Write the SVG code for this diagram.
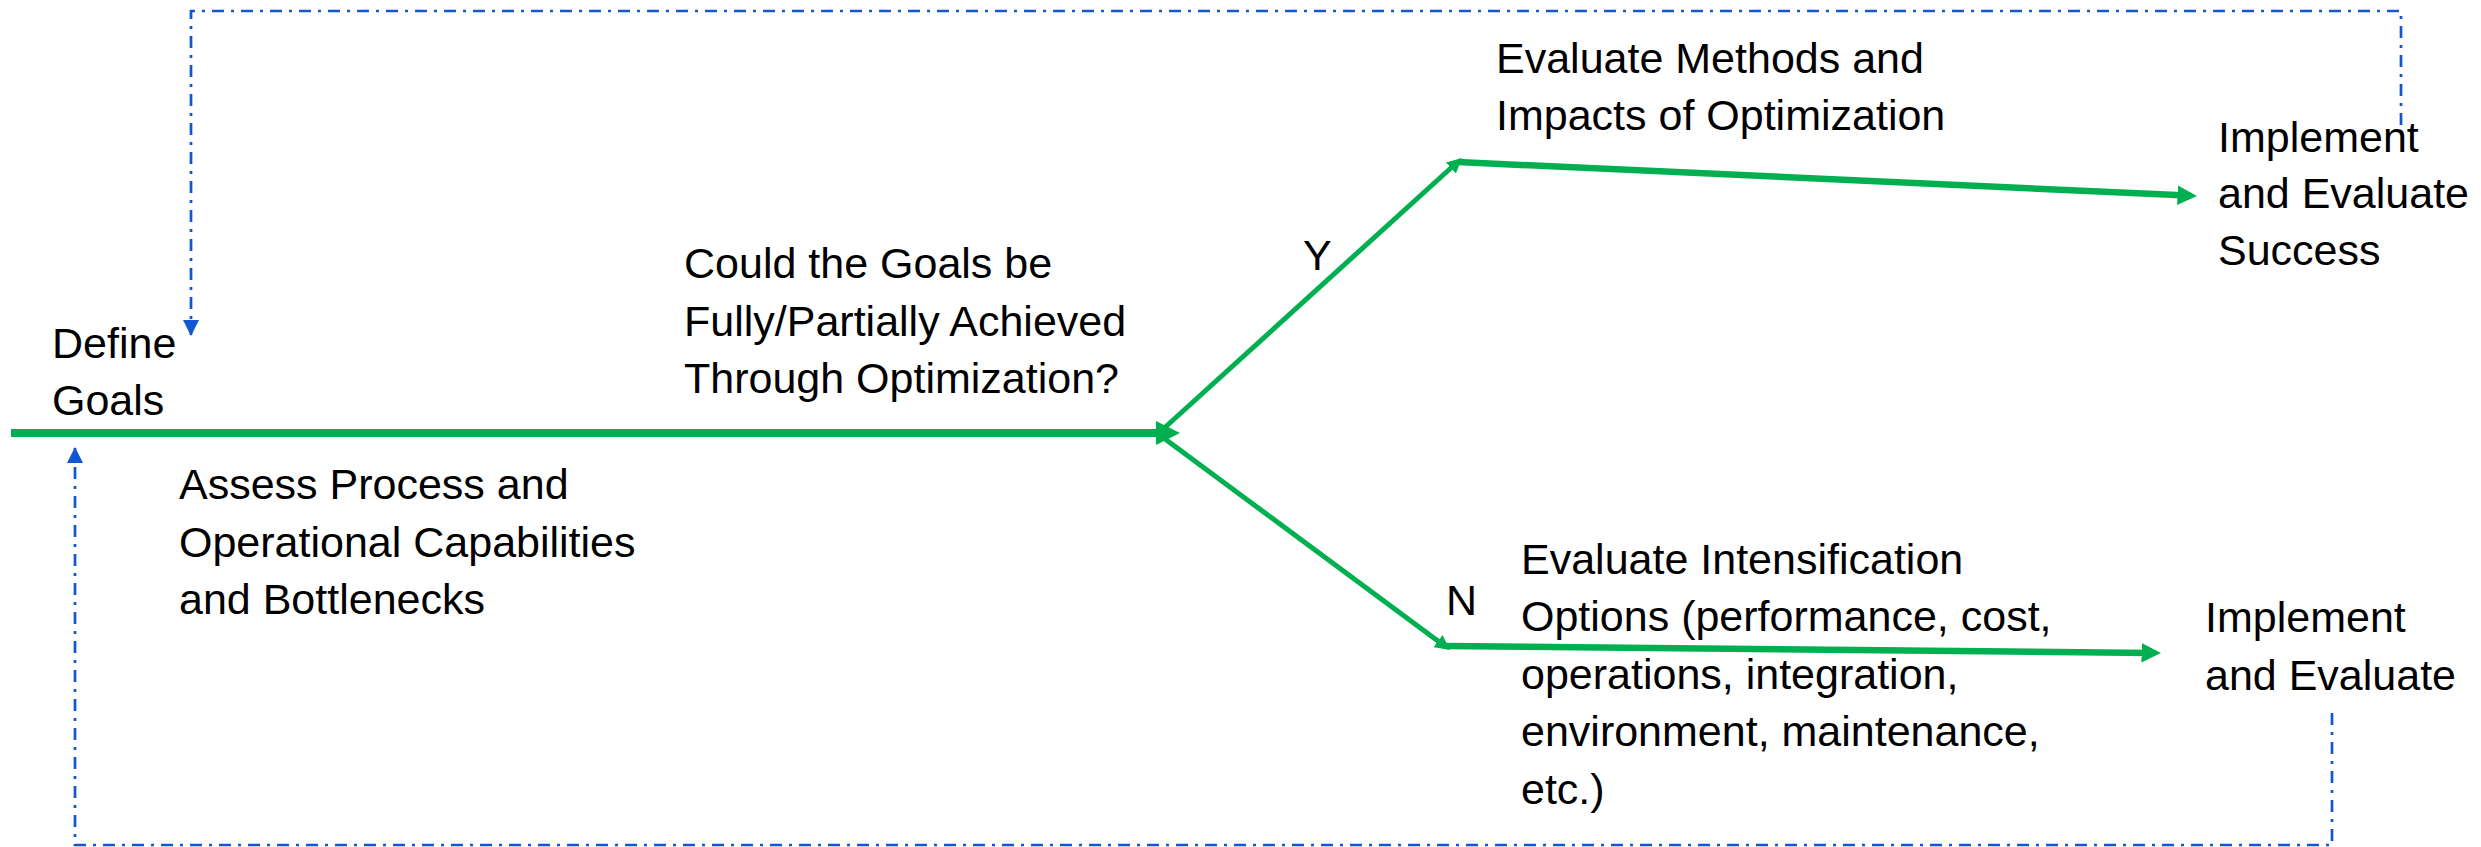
<svg xmlns="http://www.w3.org/2000/svg" width="2481" height="847" viewBox="0 0 2481 847">
  <defs>
    <style>
      .lbl { font-family: "Liberation Sans", Arial, sans-serif; font-size: 43px; fill: #000; }
      .flow { fill: none; stroke: #00B050; stroke-linecap: butt; }
      .loop { fill: none; stroke: #1157D0; stroke-width: 2.7; stroke-dasharray: 12 7 3 7; }
    </style>
    <!-- green arrowhead, sized relative to the line width -->
    <marker id="gArrow" viewBox="0 0 10 10" refX="5" refY="5" markerWidth="3" markerHeight="3" markerUnits="strokeWidth" orient="auto">
      <path d="M0,0 L10,5 L0,10 z" fill="#00B050"/>
    </marker>
    <!-- blue arrowhead for the feedback loops -->
    <marker id="bArrow" viewBox="0 0 16 16" refX="15" refY="8" markerWidth="16" markerHeight="16" markerUnits="userSpaceOnUse" orient="auto">
      <path d="M0,0 L16,8 L0,16 z" fill="#1157D0"/>
    </marker>
  </defs>
  <rect width="2481" height="847" fill="#fff"/>

  <g id="connectors">
    <!-- main assessment path to decision point -->
    <line class="flow" x1="11" y1="433" x2="1168" y2="433" stroke-width="8" marker-end="url(#gArrow)"/>
    <!-- Y branch -->
    <line class="flow" x1="1161" y1="431" x2="1456.4" y2="163" stroke-width="5" marker-end="url(#gArrow)"/>
    <line class="flow" x1="1458" y1="162" x2="2187.3" y2="195.6" stroke-width="6.5" marker-end="url(#gArrow)"/>
    <!-- N branch -->
    <line class="flow" x1="1161" y1="436" x2="1444" y2="645.5" stroke-width="5" marker-end="url(#gArrow)"/>
    <line class="flow" x1="1446" y1="646" x2="2151.3" y2="652.9" stroke-width="6.5" marker-end="url(#gArrow)"/>
    <!-- feedback loops back to goal definition -->
    <path class="loop" d="M2401,125 V11 H191 V335" marker-end="url(#bArrow)"/>
    <path class="loop" d="M2332,713 V845 H75 V448" marker-end="url(#bArrow)"/>
  </g>

  <g id="define-goals">
    <text class="lbl" x="52" y="358">Define</text>
    <text class="lbl" x="52" y="415">Goals</text>
  </g>

  <g id="assess">
    <text class="lbl" x="179" y="499">Assess Process and</text>
    <text class="lbl" x="179" y="557">Operational Capabilities</text>
    <text class="lbl" x="179" y="614">and Bottlenecks</text>
  </g>

  <g id="decision">
    <text class="lbl" x="684" y="278">Could the Goals be</text>
    <text class="lbl" x="684" y="336">Fully/Partially Achieved</text>
    <text class="lbl" x="684" y="393">Through Optimization?</text>
  </g>

  <g id="label-y">
    <text class="lbl" x="1303" y="270">Y</text>
  </g>

  <g id="label-n">
    <text class="lbl" x="1446" y="615">N</text>
  </g>

  <g id="evaluate-methods">
    <text class="lbl" x="1496" y="73">Evaluate Methods and</text>
    <text class="lbl" x="1496" y="130">Impacts of Optimization</text>
  </g>

  <g id="implement-success">
    <text class="lbl" x="2218" y="152">Implement</text>
    <text class="lbl" x="2218" y="208">and Evaluate</text>
    <text class="lbl" x="2218" y="265">Success</text>
  </g>

  <g id="evaluate-intensification">
    <text class="lbl" x="1521" y="574">Evaluate Intensification</text>
    <text class="lbl" x="1521" y="631">Options (performance, cost,</text>
    <text class="lbl" x="1521" y="689">operations, integration,</text>
    <text class="lbl" x="1521" y="746">environment, maintenance,</text>
    <text class="lbl" x="1521" y="804">etc.)</text>
  </g>

  <g id="implement-evaluate">
    <text class="lbl" x="2205" y="632">Implement</text>
    <text class="lbl" x="2205" y="690">and Evaluate</text>
  </g>
</svg>
